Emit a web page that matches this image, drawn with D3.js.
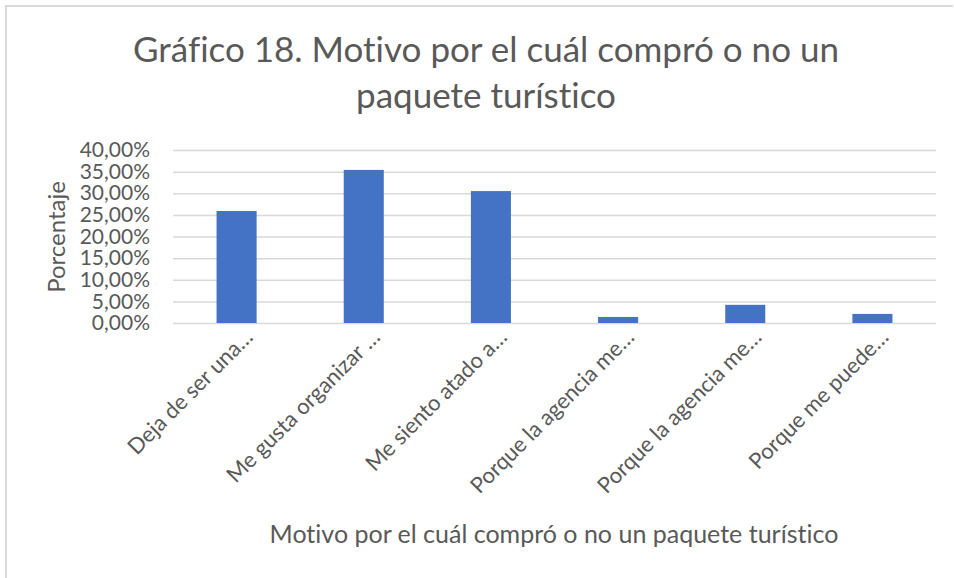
<!DOCTYPE html>
<html>
<head>
<meta charset="utf-8">
<script src="https://cdn.jsdelivr.net/npm/d3@7"></script>
<style>
  body { margin: 0; background: #fff; }
  text { font-family: Lato, "Open Sans", sans-serif; fill: #595959; font-variant-ligatures: none; }
</style>
</head>
<body>
<div id="chart"></div>
<script>
// data
var categories = [
  "Deja de ser una\u2026",
  "Me gusta organizar \u2026",
  "Me siento atado a\u2026",
  "Porque la agencia me\u2026",
  "Porque la agencia me\u2026",
  "Porque me puede\u2026"
];
var values = [0.259, 0.354, 0.305, 0.014, 0.042, 0.021];
var yTicks = [0, 0.05, 0.10, 0.15, 0.20, 0.25, 0.30, 0.35, 0.40];
var titleLines = ["Gráfico 18. Motivo por el cuál compró o no un", "paquete turístico"];
var xTitle = "Motivo por el cuál compró o no un paquete turístico";
var yTitle = "Porcentaje";

// styling
var svgWidth = 954;
var svgHeight = 578;
var margin = { top: 150, right: 18, bottom: 255, left: 173 };
var width = svgWidth - margin.left - margin.right;
var height = svgHeight - margin.top - margin.bottom;
var font = "Lato, 'Open Sans', sans-serif";

var svg = d3.select("#chart")
  .append("svg")
  .attr("width", svgWidth)
  .attr("height", svgHeight);

// chart border (top + left only visible)
svg.append("path")
  .attr("d", "M6,578 V6 H953")
  .attr("fill", "none")
  .attr("stroke", "#d9d9d9")
  .attr("stroke-width", 2);

// title
svg.append("g")
  .selectAll("text")
  .data(titleLines)
  .enter()
  .append("text")
  .attr("x", 486)
  .attr("y", (d, i) => 62 + i * 46)
  .attr("text-anchor", "middle")
  .attr("font-size", "35px")
  .text(d => d);

var chartGroup = svg.append("g")
  .attr("transform", `translate(${margin.left}, ${margin.top})`);

// scales
var xScale = d3.scaleBand()
  .domain(d3.range(categories.length))
  .range([0, width])
  .paddingInner(0.685)
  .paddingOuter(0.3425);

var yScale = d3.scaleLinear()
  .domain([0, 0.4])
  .range([height, 0]);

var fmt = v => (v * 100).toFixed(2).replace(".", ",") + "%";

// gridlines
var grid = chartGroup.append("g")
  .call(d3.axisLeft(yScale).tickValues(yTicks).tickSize(-width).tickFormat(""));
grid.select(".domain").remove();
grid.selectAll("line").attr("stroke", "#d9d9d9").attr("stroke-width", 1.5);

// y axis labels
var yAxis = chartGroup.append("g")
  .call(d3.axisLeft(yScale).tickValues(yTicks).tickSize(0).tickPadding(23).tickFormat(fmt));
yAxis.select(".domain").remove();
yAxis.selectAll("text")
  .attr("font-size", "21px")
  .attr("fill", "#595959")
  .style("font-family", font);

// bars
chartGroup.selectAll("rect.bar")
  .data(values)
  .enter()
  .append("rect")
  .attr("class", "bar")
  .attr("x", (d, i) => xScale(i))
  .attr("y", d => yScale(d))
  .attr("width", xScale.bandwidth())
  .attr("height", d => height - yScale(d))
  .attr("fill", "#4472c4");

// x axis
var xAxis = chartGroup.append("g")
  .attr("transform", `translate(0, ${height})`)
  .call(d3.axisBottom(xScale).tickSize(0).tickFormat(i => categories[i]));
xAxis.select(".domain").remove();
xAxis.selectAll("text")
  .attr("font-size", "22px")
  .attr("fill", "#595959")
  .style("font-family", font)
  .attr("text-anchor", "end")
  .attr("dy", "0.35em")
  .attr("transform", "translate(10, 8) rotate(-45)");

// axis titles
svg.append("text")
  .attr("x", 554)
  .attr("y", 543)
  .attr("text-anchor", "middle")
  .attr("font-size", "25px")
  .text(xTitle);

svg.append("text")
  .attr("transform", "translate(65, 237) rotate(-90)")
  .attr("text-anchor", "middle")
  .attr("font-size", "24px")
  .text(yTitle);
</script>
</body>
</html>
